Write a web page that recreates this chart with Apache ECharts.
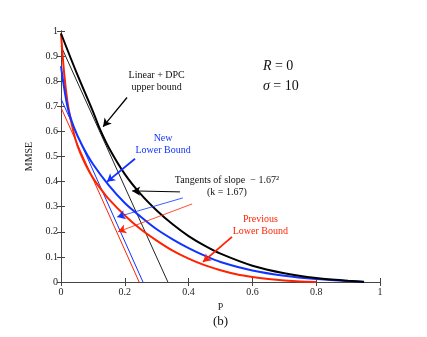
<!DOCTYPE html>
<html>
<head>
    <meta charset="utf-8" />
    <title></title>
    <style>
        html, body { margin: 0; padding: 0; background: #fff; }
        #chart { width: 427px; height: 337px; }
    </style>
</head>
<body>
    <div id="chart"></div>
    <script src="https://cdn.jsdelivr.net/npm/echarts@6/dist/echarts.min.js"></script>
    <script>
        // data
        var xTicks = [0, 0.2, 0.4, 0.6, 0.8, 1];
        var upperP = [0, 0.05, 0.1, 0.12, 0.15, 0.2, 0.25, 0.3, 0.35, 0.4, 0.45, 0.5, 0.6, 0.7, 0.8, 0.9, 0.95];
        var upperM = [0.99, 0.83, 0.68, 0.615, 0.535, 0.43, 0.35, 0.285, 0.23, 0.183, 0.145, 0.113, 0.065, 0.035, 0.016, 0.005, 0];
        var newP = [0, 0.02, 0.04, 0.066, 0.1, 0.15, 0.2, 0.25, 0.3, 0.35, 0.4, 0.45, 0.5, 0.6, 0.7, 0.8, 0.9, 0.95];
        var newM = [0.86, 0.70, 0.618, 0.545, 0.47, 0.385, 0.315, 0.26, 0.21, 0.17, 0.135, 0.105, 0.08, 0.046, 0.025, 0.012, 0.004, 0.001];
        var prevP = [0, 0.01, 0.02, 0.03, 0.045, 0.06, 0.08, 0.1, 0.128, 0.15, 0.2, 0.25, 0.3, 0.35, 0.4, 0.45, 0.5, 0.55, 0.6, 0.65, 0.7, 0.75, 0.8];
        var prevM = [0.99, 0.83, 0.72, 0.65, 0.57, 0.515, 0.46, 0.415, 0.365, 0.33, 0.265, 0.21, 0.165, 0.125, 0.093, 0.067, 0.047, 0.031, 0.02, 0.012, 0.006, 0.002, 0];
        // tangent lines: [intercept at P=0, zero crossing]
        var tangUpper = [[0, 0.94], [0.335, 0]];
        var tangNew = [[0, 0.73], [0.257, 0]];
        var tangPrev = [[0, 0.695], [0.245, 0]];

        var red = '#ff2200', blue = '#1033ff', black = '#000';
        var serif = '"Liberation Serif", "DejaVu Serif", serif';

        function zip(a, b) {
            return a.map(function (v, i) { return [v, b[i]]; });
        }

        function arrow(from, to, color, w) {
            return [{ coord: from, lineStyle: { color: color, width: w, type: 'solid' } }, { coord: to }];
        }

        var tickAxis = {
            min: 0, max: 1,
            axisLine: { show: true, lineStyle: { color: '#444', width: 1 } },
            axisTick: { show: true, inside: true, length: 4, lineStyle: { color: '#444' } },
            splitLine: { show: false }
        };

        option = {
            backgroundColor: '#fff',
            animation: false,
            grid: { left: 61, right: 47, top: 31, bottom: 55 },
            xAxis: [
                Object.assign({}, tickAxis, {
                    type: 'value', interval: 0.2, position: 'bottom',
                    name: 'P', nameLocation: 'middle', nameGap: 17,
                    nameTextStyle: { fontFamily: serif, fontSize: 10, color: '#222' },
                    axisLabel: { fontFamily: serif, fontSize: 10, color: '#222', margin: 5,
                        formatter: function (v) { return xTicks.indexOf(+v.toFixed(1)) >= 0 ? String(+v.toFixed(1)) : ''; } }
                }),
                Object.assign({}, tickAxis, { type: 'value', interval: 0.2, position: 'top', axisLabel: { show: false } })
            ],
            yAxis: [
                Object.assign({}, tickAxis, {
                    type: 'value', interval: 0.1, position: 'left',
                    name: 'MMSE', nameLocation: 'middle', nameGap: 20, nameRotate: 90,
                    nameTextStyle: { fontFamily: serif, fontSize: 10, color: '#222' },
                    axisLabel: { fontFamily: serif, fontSize: 10, color: '#222', margin: 3,
                        formatter: function (v) { return String(+v.toFixed(1)); } }
                }),
                Object.assign({}, tickAxis, { type: 'value', interval: 0.1, position: 'right', axisLabel: { show: false } })
            ],
            series: [
                { type: 'line', data: tangUpper, showSymbol: false, lineStyle: { color: '#222', width: 1 } },
                { type: 'line', data: tangNew, showSymbol: false, lineStyle: { color: blue, width: 1 } },
                { type: 'line', data: tangPrev, showSymbol: false, lineStyle: { color: red, width: 1 } },
                { type: 'line', data: zip(prevP, prevM), smooth: 0.3, showSymbol: false, lineStyle: { color: red, width: 2 } },
                { type: 'line', data: zip(newP, newM), smooth: 0.3, showSymbol: false, lineStyle: { color: blue, width: 2 } },
                {
                    type: 'line', data: zip(upperP, upperM), smooth: 0.3, showSymbol: false, lineStyle: { color: black, width: 2 },
                    markLine: {
                        silent: true, symbol: ['none', 'arrow'], symbolSize: [7, 8],
                        label: { show: false },
                        lineStyle: { type: 'solid' },
                        data: [
                            arrow([0.207, 0.735], [0.132, 0.619], black, 1.3),
                            arrow([0.232, 0.491], [0.144, 0.399], blue, 1.8),
                            arrow([0.373, 0.359], [0.223, 0.363], black, 1),
                            arrow([0.382, 0.335], [0.176, 0.259], blue, 0.8),
                            arrow([0.411, 0.311], [0.179, 0.2], red, 0.8),
                            arrow([0.536, 0.18], [0.445, 0.08], red, 1.8)
                        ]
                    }
                }
            ]
        };

        var chart = echarts.init(document.getElementById('chart'));
        chart.setOption(option);

        // annotations placed in data coordinates
        var notes = [
            { at: [0.30, 0.80], text: 'Linear + DPC\nupper bound', color: '#111', align: 'center', size: 10 },
            { at: [0.32, 0.55], text: 'New\nLower Bound', color: blue, align: 'center', size: 10 },
            { at: [0.52, 0.38], text: 'Tangents of slope  \u2212 1.67\u00b2\n(k = 1.67)', color: '#111', align: 'center', size: 10 },
            { at: [0.625, 0.225], text: 'Previous\nLower Bound', color: red, align: 'center', size: 10 }
        ];
        var graphics = notes.map(function (n) {
            var p = chart.convertToPixel({ gridIndex: 0 }, n.at);
            return {
                type: 'text', x: p[0], y: p[1],
                style: { text: n.text, fill: n.color, font: n.size + 'px ' + serif, align: n.align, verticalAlign: 'middle', lineHeight: 12 }
            };
        });
        var rp = chart.convertToPixel({ gridIndex: 0 }, [0.633, 0.82]);
        graphics.push({
            type: 'text', x: rp[0], y: rp[1],
            style: { text: '{i|R} = 0\n{i|\u03c3} = 10', fill: '#111', font: '14px ' + serif, verticalAlign: 'middle', lineHeight: 20,
                rich: { i: { font: 'italic 14px ' + serif, fill: '#111' } } }
        });
        var bp = chart.convertToPixel({ gridIndex: 0 }, [0.5, 0]);
        graphics.push({
            type: 'text', x: bp[0], y: bp[1] + 40,
            style: { text: '(b)', fill: '#111', font: '13px ' + serif, align: 'center', verticalAlign: 'middle' }
        });
        chart.setOption({ graphic: graphics });
    </script>
</body>
</html>
